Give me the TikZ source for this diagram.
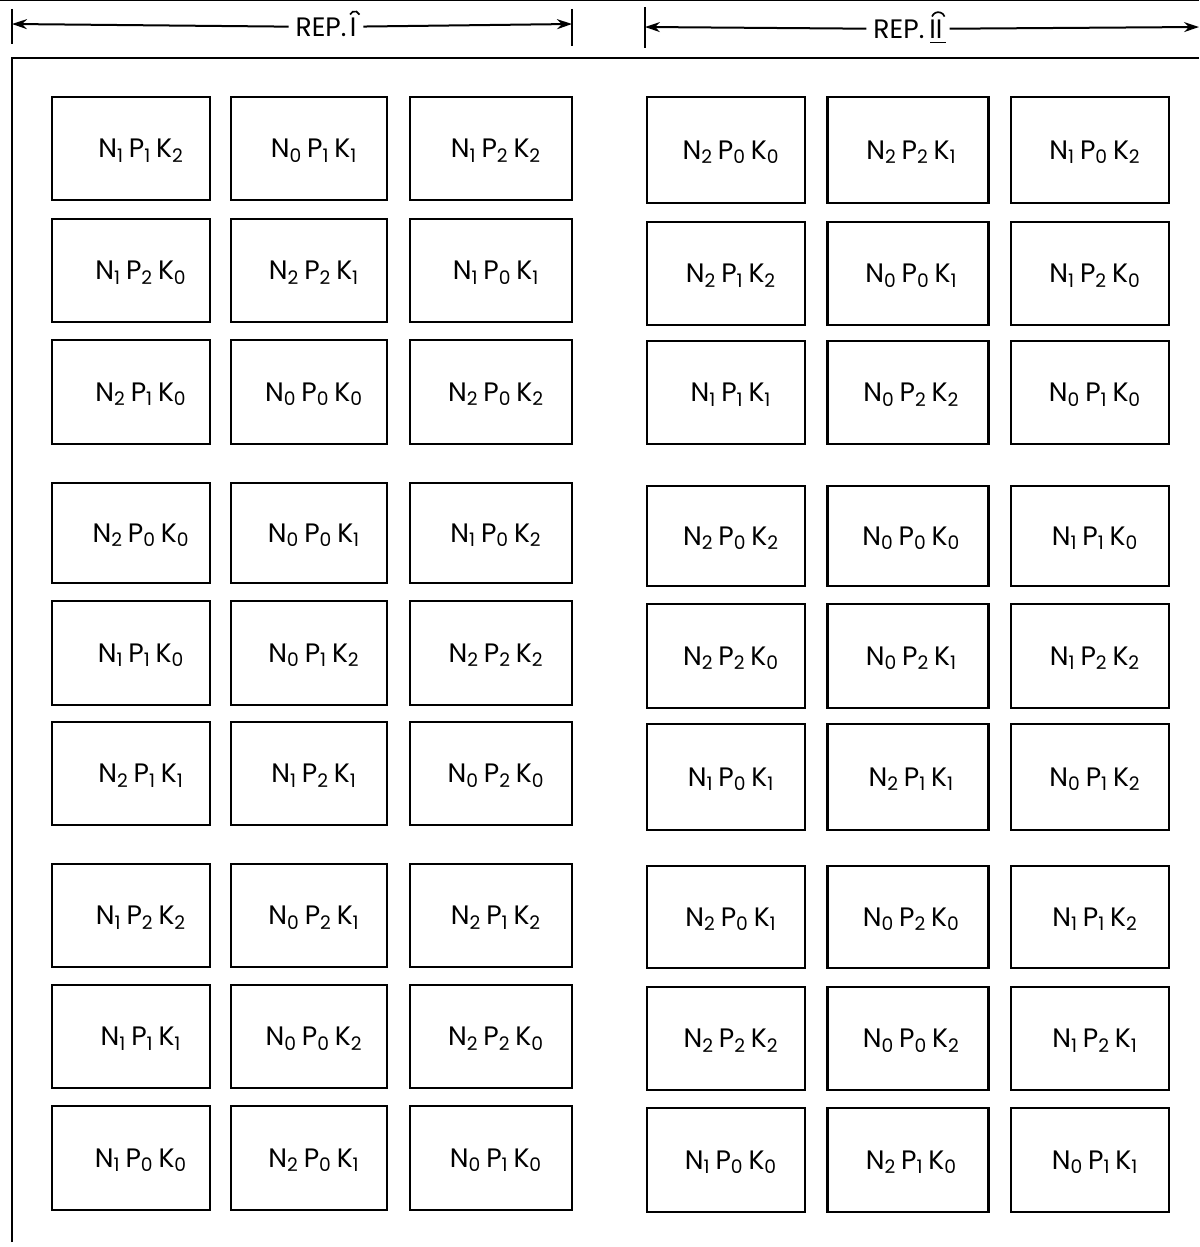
\documentclass[tikz,border=0pt]{standalone}
\usepackage{fontspec}
\setmainfont{Poppins}
\usetikzlibrary{arrows.meta}
\newcommand\npk[3]{N\textsubscript{#1}\kern3pt P\textsubscript{#2}\kern3pt K\textsubscript{#3}}
\begin{document}
\begin{tikzpicture}[x=0.6pt,y=-0.6pt,
  cell/.style={draw, line width=1.4pt, inner sep=0pt, text depth=0pt,
    font=\fontsize{16}{18}\selectfont},
  frame/.style={line width=1.3pt},
  tick/.style={line width=1.4pt},
  accent/.style={line width=1pt},
  arr/.style={line width=1.2pt, -{Stealth[length=9pt,width=6pt]}},
  title/.style={fill=white, inner sep=4pt, font=\fontsize{16}{18}\selectfont}]
\useasboundingbox (0,0) rectangle (1199,1247);
% outer frame
\draw[line width=0.6pt] (0,1) -- (1199,1);
\coordinate (fb) at (12,1242);
\coordinate (fc) at (12,58);
\coordinate (fr) at (1199,58);
\draw[frame] (fb) -- (fc) -- (fr);
% header left
\coordinate (lta) at (12,9);  \coordinate (ltb) at (12,44);
\coordinate (rta) at (572,9); \coordinate (rtb) at (572,46);
\draw[tick] (lta) -- (ltb);
\draw[tick] (rta) -- (rtb);
\coordinate (la) at (12,24); \coordinate (lb) at (572,24);
\node[title] (t1) at (326,27) {REP.\kern2pt I};
\draw[accent] ([xshift=-8pt,yshift=13pt]t1.base east) arc[start angle=160, end angle=20, radius=3pt];
\draw[arr] (t1) -- (la);
\draw[arr] (t1) -- (lb);
% header right
\coordinate (sta) at (645,7); \coordinate (stb) at (645,48);
\draw[tick] (sta) -- (stb);
\coordinate (ra) at (645,27); \coordinate (rb) at (1199,27);
\node[title] (t2) at (908,29) {REP.\kern3pt II};
\draw[accent] ([xshift=-10.5pt,yshift=13pt]t2.base east) arc[start angle=160, end angle=20, radius=4pt];
\draw[accent] ([xshift=-11.5pt,yshift=-2.5pt]t2.base east) -- ([xshift=-2pt,yshift=-2.5pt]t2.base east);
\draw[arr] (t2) -- (ra);
\draw[arr] (t2) -- (rb);
% cells
\foreach \yl/\hl/\yr/\hr/\la/\lb/\lc/\ld/\le/\lf [count=\r] in {
 148.5/103/150/106/{\npk112}/{\npk011}/{\npk122}/{\npk200}/{\npk221}/{\npk102},
 270.5/103/273.5/103/{\npk120}/{\npk221}/{\npk101}/{\npk212}/{\npk001}/{\npk120},
 392/104/392.5/103/{\npk210}/{\npk000}/{\npk202}/{\npk111}/{\npk022}/{\npk010},
 533/100/536/100/{\npk200}/{\npk001}/{\npk102}/{\npk202}/{\npk000}/{\npk110},
 653/104/656/104/{\npk110}/{\npk012}/{\npk222}/{\npk220}/{\npk021}/{\npk122},
 773.5/103/777/106/{\npk211}/{\npk121}/{\npk020}/{\npk101}/{\npk211}/{\npk012},
 915.5/103/917/102/{\npk122}/{\npk021}/{\npk212}/{\npk201}/{\npk020}/{\npk112},
 1036.5/103/1038.5/103/{\npk111}/{\npk002}/{\npk220}/{\npk222}/{\npk002}/{\npk121},
 1158/104/1160/104/{\npk100}/{\npk201}/{\npk010}/{\npk100}/{\npk210}/{\npk011}}
{
 \node[cell, minimum width=158*0.6pt, minimum height=\hl*0.6pt] (c\r-1) at (131,\yl) {\hspace{12pt}\la};
 \node[cell, minimum width=156*0.6pt, minimum height=\hl*0.6pt] (c\r-2) at (309,\yl) {\hspace{6pt}\lb};
 \node[cell, minimum width=162*0.6pt, minimum height=\hl*0.6pt] (c\r-3) at (491,\yl) {\hspace{6pt}\lc};
 \node[cell, minimum width=158*0.6pt, minimum height=\hr*0.6pt] (c\r-4) at (726,\yr) {\hspace{6pt}\ld};
 \node[cell, minimum width=161*0.6pt, minimum height=\hr*0.6pt] (c\r-5) at (908,\yr) {\hspace{4pt}\le};
 \node[cell, minimum width=158*0.6pt, minimum height=\hr*0.6pt] (c\r-6) at (1090,\yr) {\hspace{6pt}\lf};
}
\end{tikzpicture}
\end{document}
